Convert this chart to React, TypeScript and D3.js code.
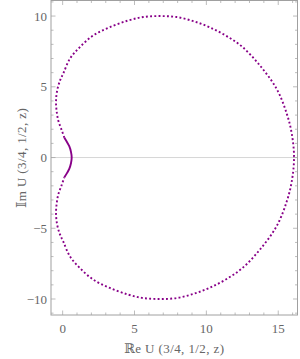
import React, { useEffect, useRef } from 'react';
import * as d3 from 'd3';

// [Re, Im], upper half from the cusp out to the right tip
const upperArc: [number, number][] = [
  [0.12, 1.4], [-0.07, 1.95], [-0.3, 2.6], [-0.42, 3.3], [-0.46, 4.0],
  [-0.38, 4.75], [-0.18, 5.45], [0.04, 5.93], [0.51, 6.99], [1.2, 7.81],
  [2.13, 8.63], [3.29, 9.22], [4.57, 9.69], [5.61, 9.93], [6.77, 10.0],
  [7.93, 9.93], [9.09, 9.64], [10.2, 9.22], [11.35, 8.62],
  [12.5, 7.82], [13.73, 6.5], [14.89, 4.85], [15.59, 3.11], [15.94, 1.69],
  [16.1, 0],
];

// lower half, from the right tip back to the cusp
const lowerArc: [number, number][] = [
  [16.1, 0], [15.94, -1.69], [15.59, -3.11], [14.89, -4.85], [13.73, -6.5],
  [12.5, -7.82], [11.35, -8.62], [10.2, -9.22], [9.09, -9.64],
  [7.93, -9.93], [6.77, -10.0], [5.61, -9.93], [4.57, -9.69], [3.29, -9.22],
  [2.13, -8.63], [1.2, -7.81], [0.51, -6.99], [0.04, -5.93], [-0.18, -5.45],
  [-0.38, -4.75], [-0.46, -4.0], [-0.42, -3.3], [-0.3, -2.6], [-0.07, -1.95],
  [0.12, -1.4],
];

// densely sampled part near the cusp (looks solid)
const cuspArc: [number, number][] = [
  [0.12, 1.4], [0.3, 1.1], [0.46, 0.8], [0.58, 0.4], [0.63, 0],
  [0.58, -0.4], [0.46, -0.8], [0.3, -1.1], [0.12, -1.4],
];

const xMajor = [0, 5, 10, 15];
const yMajor = [-10, -5, 0, 5, 10];
const xMinor = d3.range(0, 17, 1);
const yMinor = d3.range(-11, 12, 1);

const App: React.FC = () => {
  const ref = useRef<SVGSVGElement | null>(null);

  useEffect(() => {
    if (!ref.current) return;
    const svg = d3.select(ref.current);
    svg.selectAll('*').remove();

    const left = 51;
    const right = 297.5;
    const top = 0.5;
    const bottom = 315;

    const x = d3.scaleLinear().domain([-0.81, 16.34]).range([left, right]);
    const y = d3.scaleLinear().domain([-11.13, 11.1]).range([bottom, top]);

    const frameColor = '#a0a0a0';
    const textColor = '#666';

    // zero line
    svg
      .append('line')
      .attr('x1', left)
      .attr('x2', right)
      .attr('y1', y(0))
      .attr('y2', y(0))
      .attr('stroke', '#d6d6d6')
      .attr('stroke-width', 1);

    const g = svg.append('g');

    xMinor.forEach((v) => {
      const px = x(v);
      const len = xMajor.includes(v) ? 4.5 : 2.5;
      g.append('line').attr('x1', px).attr('x2', px).attr('y1', bottom).attr('y2', bottom - len)
        .attr('stroke', frameColor).attr('stroke-width', 0.7);
      g.append('line').attr('x1', px).attr('x2', px).attr('y1', top).attr('y2', top + len)
        .attr('stroke', frameColor).attr('stroke-width', 0.7);
    });
    yMinor.forEach((v) => {
      const py = y(v);
      const len = yMajor.includes(v) ? 4.5 : 2.5;
      g.append('line').attr('x1', left).attr('x2', left + len).attr('y1', py).attr('y2', py)
        .attr('stroke', frameColor).attr('stroke-width', 0.7);
      g.append('line').attr('x1', right).attr('x2', right - len).attr('y1', py).attr('y2', py)
        .attr('stroke', frameColor).attr('stroke-width', 0.7);
    });

    // frame
    svg
      .append('rect')
      .attr('x', left)
      .attr('y', top)
      .attr('width', right - left)
      .attr('height', bottom - top)
      .attr('fill', 'none')
      .attr('stroke', frameColor)
      .attr('stroke-width', 1);

    const font = '"Liberation Serif", "DejaVu Serif", serif';

    svg
      .selectAll('.xt')
      .data(xMajor)
      .enter()
      .append('text')
      .attr('x', (d) => x(d))
      .attr('y', 333)
      .attr('text-anchor', 'middle')
      .attr('font-family', font)
      .attr('font-size', 13)
      .attr('fill', textColor)
      .text((d) => String(d));

    svg
      .selectAll('.yt')
      .data(yMajor)
      .enter()
      .append('text')
      .attr('x', 47)
      .attr('y', (d) => y(d))
      .attr('dy', '0.35em')
      .attr('text-anchor', 'end')
      .attr('font-family', font)
      .attr('font-size', 13)
      .attr('fill', textColor)
      .text((d) => (d < 0 ? `\u2212${-d}` : String(d)));

    svg
      .append('text')
      .attr('x', (left + right) / 2)
      .attr('y', 353)
      .attr('text-anchor', 'middle')
      .attr('font-family', font)
      .attr('font-size', 13)
      .attr('letter-spacing', 0.4)
      .attr('fill', textColor)
      .text('\u211De  U (3/4, 1/2, z)');

    svg
      .append('text')
      .attr('transform', `translate(26,${(top + bottom) / 2}) rotate(-90)`)
      .attr('text-anchor', 'middle')
      .attr('font-family', font)
      .attr('font-size', 13)
      .attr('letter-spacing', 0.4)
      .attr('fill', textColor)
      .text('\uD835\uDD40m  U (3/4, 1/2, z)');

    const line = d3
      .line<[number, number]>()
      .x((d) => x(d[0]))
      .y((d) => y(d[1]))
      .curve(d3.curveCatmullRom);

    const outer = upperArc.concat(lowerArc.slice(1));

    svg
      .append('path')
      .datum(outer)
      .attr('d', line)
      .attr('fill', 'none')
      .attr('stroke', '#880088')
      .attr('stroke-width', 1.9)
      .attr('stroke-dasharray', '1.9 2.3');

    svg
      .append('path')
      .datum(cuspArc)
      .attr('d', line)
      .attr('fill', 'none')
      .attr('stroke', '#880088')
      .attr('stroke-width', 1.9);
  }, []);

  return (
    <svg
      ref={ref}
      width={300}
      height={359}
      style={{ position: 'absolute', left: 0, top: 0, background: '#fff' }}
    ></svg>
  );
};

export default App;
